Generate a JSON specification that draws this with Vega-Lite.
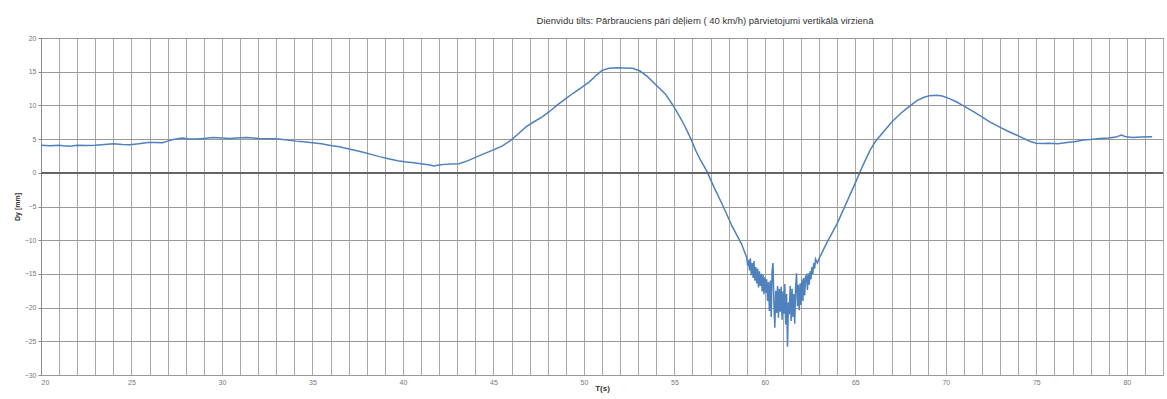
{
  "$schema": "https://vega.github.io/schema/vega-lite/v6.json",
  "width": 1122,
  "height": 337,
  "autosize": {"type": "none"},
  "padding": {"left": 41, "top": 38, "right": 4, "bottom": 24},
  "background": "white",
  "title": {
    "text": "Dienvidu tilts: Pārbrauciens pāri dēļiem ( 40 km/h) pārvietojumi vertikālā virzienā",
    "font": "Liberation Sans",
    "fontSize": 9.5,
    "fontWeight": "normal",
    "color": "#333333",
    "anchor": "middle",
    "dx": 103,
    "offset": 9
  },
  "config": {
    "view": {"stroke": "#aaaaaa", "strokeWidth": 1},
    "axis": {"labelFont": "Liberation Sans", "titleFont": "Liberation Sans", "labelColor": "#777777", "titleColor": "#333333"}
  },
  "data": {
    "values": [
      {"t": 20.0, "v": 4.1}, {"t": 20.5, "v": 4.0}, {"t": 21.0, "v": 4.1}, {"t": 21.2, "v": 4.0},
      {"t": 21.6, "v": 3.95}, {"t": 22.0, "v": 4.1}, {"t": 22.5, "v": 4.05}, {"t": 23.0, "v": 4.1},
      {"t": 23.5, "v": 4.2}, {"t": 24.0, "v": 4.3}, {"t": 24.5, "v": 4.2}, {"t": 24.9, "v": 4.15},
      {"t": 25.4, "v": 4.3}, {"t": 25.9, "v": 4.5}, {"t": 26.3, "v": 4.5}, {"t": 26.7, "v": 4.45},
      {"t": 27.0, "v": 4.7}, {"t": 27.3, "v": 4.95}, {"t": 27.8, "v": 5.15}, {"t": 28.2, "v": 5.0},
      {"t": 28.6, "v": 5.0}, {"t": 29.0, "v": 5.1}, {"t": 29.5, "v": 5.25}, {"t": 30.0, "v": 5.15},
      {"t": 30.4, "v": 5.1}, {"t": 31.0, "v": 5.2}, {"t": 31.4, "v": 5.25}, {"t": 32.0, "v": 5.1},
      {"t": 32.5, "v": 5.05}, {"t": 33.0, "v": 5.05}, {"t": 33.5, "v": 4.9}, {"t": 34.1, "v": 4.7},
      {"t": 34.5, "v": 4.6}, {"t": 35.0, "v": 4.45}, {"t": 35.5, "v": 4.3}, {"t": 36.0, "v": 4.05},
      {"t": 36.5, "v": 3.85}, {"t": 36.9, "v": 3.6}, {"t": 37.4, "v": 3.3}, {"t": 37.8, "v": 3.05},
      {"t": 38.3, "v": 2.7}, {"t": 38.7, "v": 2.4}, {"t": 39.2, "v": 2.1}, {"t": 39.7, "v": 1.8},
      {"t": 40.2, "v": 1.6}, {"t": 40.6, "v": 1.5}, {"t": 41.0, "v": 1.35}, {"t": 41.5, "v": 1.15},
      {"t": 41.7, "v": 1.0}, {"t": 42.0, "v": 1.15}, {"t": 42.3, "v": 1.25}, {"t": 42.6, "v": 1.3},
      {"t": 43.1, "v": 1.35}, {"t": 43.6, "v": 1.8}, {"t": 44.1, "v": 2.4}, {"t": 44.5, "v": 2.85},
      {"t": 45.0, "v": 3.4}, {"t": 45.5, "v": 4.0}, {"t": 45.9, "v": 4.7}, {"t": 46.3, "v": 5.6},
      {"t": 46.8, "v": 6.8}, {"t": 47.2, "v": 7.5}, {"t": 47.7, "v": 8.3}, {"t": 48.1, "v": 9.1},
      {"t": 48.5, "v": 10.0}, {"t": 49.0, "v": 11.0}, {"t": 49.4, "v": 11.8}, {"t": 49.9, "v": 12.7},
      {"t": 50.3, "v": 13.5}, {"t": 50.7, "v": 14.5}, {"t": 51.0, "v": 15.2}, {"t": 51.4, "v": 15.5},
      {"t": 51.8, "v": 15.6}, {"t": 52.2, "v": 15.55}, {"t": 52.7, "v": 15.5}, {"t": 53.1, "v": 15.1},
      {"t": 53.5, "v": 14.3}, {"t": 54.0, "v": 13.0}, {"t": 54.5, "v": 11.7}, {"t": 54.9, "v": 10.1},
      {"t": 55.3, "v": 8.3}, {"t": 55.6, "v": 6.8}, {"t": 55.9, "v": 5.1}, {"t": 56.2, "v": 3.2},
      {"t": 56.4, "v": 2.1}, {"t": 56.8, "v": 0.2}, {"t": 57.2, "v": -2.2}, {"t": 57.7, "v": -5.0},
      {"t": 58.2, "v": -8.0}, {"t": 58.7, "v": -10.5},
      {"t": 59.00, "v": -12.6}, {"t": 59.05, "v": -13.8}, {"t": 59.10, "v": -12.9}, {"t": 59.15, "v": -14.5},
      {"t": 59.20, "v": -12.7}, {"t": 59.25, "v": -15.2}, {"t": 59.30, "v": -13.4}, {"t": 59.35, "v": -15.6},
      {"t": 59.40, "v": -13.1}, {"t": 59.45, "v": -16.0}, {"t": 59.50, "v": -14.0}, {"t": 59.55, "v": -16.4},
      {"t": 59.60, "v": -14.2}, {"t": 59.65, "v": -17.0}, {"t": 59.70, "v": -14.6}, {"t": 59.75, "v": -16.8},
      {"t": 59.80, "v": -15.0}, {"t": 59.85, "v": -17.6}, {"t": 59.90, "v": -15.1}, {"t": 59.95, "v": -18.0},
      {"t": 60.00, "v": -15.5}, {"t": 60.05, "v": -17.8}, {"t": 60.10, "v": -15.8}, {"t": 60.15, "v": -19.0},
      {"t": 60.20, "v": -16.2}, {"t": 60.25, "v": -20.5}, {"t": 60.30, "v": -16.0}, {"t": 60.35, "v": -21.4},
      {"t": 60.40, "v": -14.5}, {"t": 60.45, "v": -13.4}, {"t": 60.50, "v": -19.5}, {"t": 60.55, "v": -23.0},
      {"t": 60.60, "v": -17.5}, {"t": 60.65, "v": -20.8}, {"t": 60.70, "v": -16.8}, {"t": 60.75, "v": -21.5},
      {"t": 60.80, "v": -17.2}, {"t": 60.85, "v": -20.6}, {"t": 60.90, "v": -16.9}, {"t": 60.95, "v": -21.8},
      {"t": 61.00, "v": -17.6}, {"t": 61.05, "v": -20.9}, {"t": 61.10, "v": -16.5}, {"t": 61.15, "v": -22.5},
      {"t": 61.20, "v": -18.0}, {"t": 61.25, "v": -25.8}, {"t": 61.30, "v": -19.2}, {"t": 61.35, "v": -21.0},
      {"t": 61.40, "v": -16.8}, {"t": 61.45, "v": -22.0}, {"t": 61.50, "v": -17.2}, {"t": 61.55, "v": -21.4},
      {"t": 61.60, "v": -18.0}, {"t": 61.65, "v": -22.4}, {"t": 61.70, "v": -17.0}, {"t": 61.75, "v": -14.9},
      {"t": 61.80, "v": -19.8}, {"t": 61.85, "v": -16.6}, {"t": 61.90, "v": -20.4}, {"t": 61.95, "v": -16.4},
      {"t": 62.00, "v": -19.6}, {"t": 62.05, "v": -15.8}, {"t": 62.10, "v": -19.0}, {"t": 62.15, "v": -15.6},
      {"t": 62.20, "v": -18.2}, {"t": 62.25, "v": -15.4}, {"t": 62.30, "v": -15.2}, {"t": 62.35, "v": -17.4},
      {"t": 62.40, "v": -14.9}, {"t": 62.45, "v": -16.6}, {"t": 62.50, "v": -14.6}, {"t": 62.55, "v": -15.8},
      {"t": 62.60, "v": -14.0}, {"t": 62.65, "v": -15.0}, {"t": 62.70, "v": -13.4}, {"t": 62.75, "v": -14.2},
      {"t": 62.80, "v": -12.8}, {"t": 62.90, "v": -13.4}, {"t": 63.00, "v": -12.7},
      {"t": 63.4, "v": -10.5}, {"t": 64.0, "v": -7.5}, {"t": 64.5, "v": -4.5}, {"t": 65.0, "v": -1.5},
      {"t": 65.4, "v": 1.0}, {"t": 65.8, "v": 3.3}, {"t": 66.1, "v": 4.6}, {"t": 66.5, "v": 5.9},
      {"t": 67.0, "v": 7.5}, {"t": 67.5, "v": 8.8}, {"t": 68.0, "v": 9.9}, {"t": 68.4, "v": 10.7},
      {"t": 68.8, "v": 11.2}, {"t": 69.1, "v": 11.45}, {"t": 69.5, "v": 11.5}, {"t": 69.8, "v": 11.4},
      {"t": 70.2, "v": 11.0}, {"t": 70.6, "v": 10.5}, {"t": 71.0, "v": 9.9}, {"t": 71.5, "v": 9.1},
      {"t": 72.0, "v": 8.3}, {"t": 72.4, "v": 7.6}, {"t": 72.9, "v": 6.9}, {"t": 73.4, "v": 6.2},
      {"t": 73.9, "v": 5.6}, {"t": 74.3, "v": 5.1}, {"t": 74.7, "v": 4.6}, {"t": 75.0, "v": 4.4},
      {"t": 75.4, "v": 4.35}, {"t": 75.7, "v": 4.4}, {"t": 76.2, "v": 4.3}, {"t": 76.7, "v": 4.5},
      {"t": 77.1, "v": 4.6}, {"t": 77.6, "v": 4.85}, {"t": 78.0, "v": 4.95}, {"t": 78.5, "v": 5.1},
      {"t": 79.0, "v": 5.15}, {"t": 79.4, "v": 5.3}, {"t": 79.7, "v": 5.6}, {"t": 79.9, "v": 5.4},
      {"t": 80.3, "v": 5.25}, {"t": 80.8, "v": 5.3}, {"t": 81.4, "v": 5.35}
    ]
  },
  "layer": [
    {
      "mark": {"type": "line", "color": "#4F81BD", "strokeWidth": 1.5},
      "encoding": {
        "x": {
          "field": "t", "type": "quantitative",
          "scale": {"domain": [20, 82], "nice": false, "zero": false},
          "axis": {
            "title": "T(s)", "titleFontSize": 8, "titleFontWeight": "bold", "titlePadding": -1,
            "values": [20, 21, 22, 23, 24, 25, 26, 27, 28, 29, 30, 31, 32, 33, 34, 35, 36, 37, 38, 39, 40, 41, 42, 43, 44, 45, 46, 47, 48, 49, 50, 51, 52, 53, 54, 55, 56, 57, 58, 59, 60, 61, 62, 63, 64, 65, 66, 67, 68, 69, 70, 71, 72, 73, 74, 75, 76, 77, 78, 79, 80, 81],
            "labelExpr": "datum.value % 5 === 0 ? datum.label : ''",
            "labelOverlap": false,
            "labelFontSize": 7, "labelPadding": 3, "ticks": false, "domain": false,
            "grid": true, "gridColor": "#a8a8a8", "gridWidth": 1
          }
        },
        "y": {
          "field": "v", "type": "quantitative",
          "scale": {"domain": [-30, 20], "nice": false},
          "axis": {
            "title": "Dy [mm]", "titleFontSize": 7, "titleFontWeight": "bold", "titlePadding": 4,
            "values": [-30, -25, -20, -15, -10, -5, 0, 5, 10, 15, 20],
            "labelOverlap": false,
            "labelFontSize": 7, "labelPadding": 2, "tickSize": 3, "tickColor": "#888888",
            "domain": true, "domainColor": "#888888",
            "grid": true, "gridColor": "#999999", "gridWidth": 1
          }
        }
      }
    },
    {
      "mark": {"type": "rule", "color": "#666666", "strokeWidth": 1},
      "encoding": {"y": {"datum": 0, "type": "quantitative", "axis": null}}
    }
  ],
  "resolve": {"axis": {"y": "independent"}}
}
